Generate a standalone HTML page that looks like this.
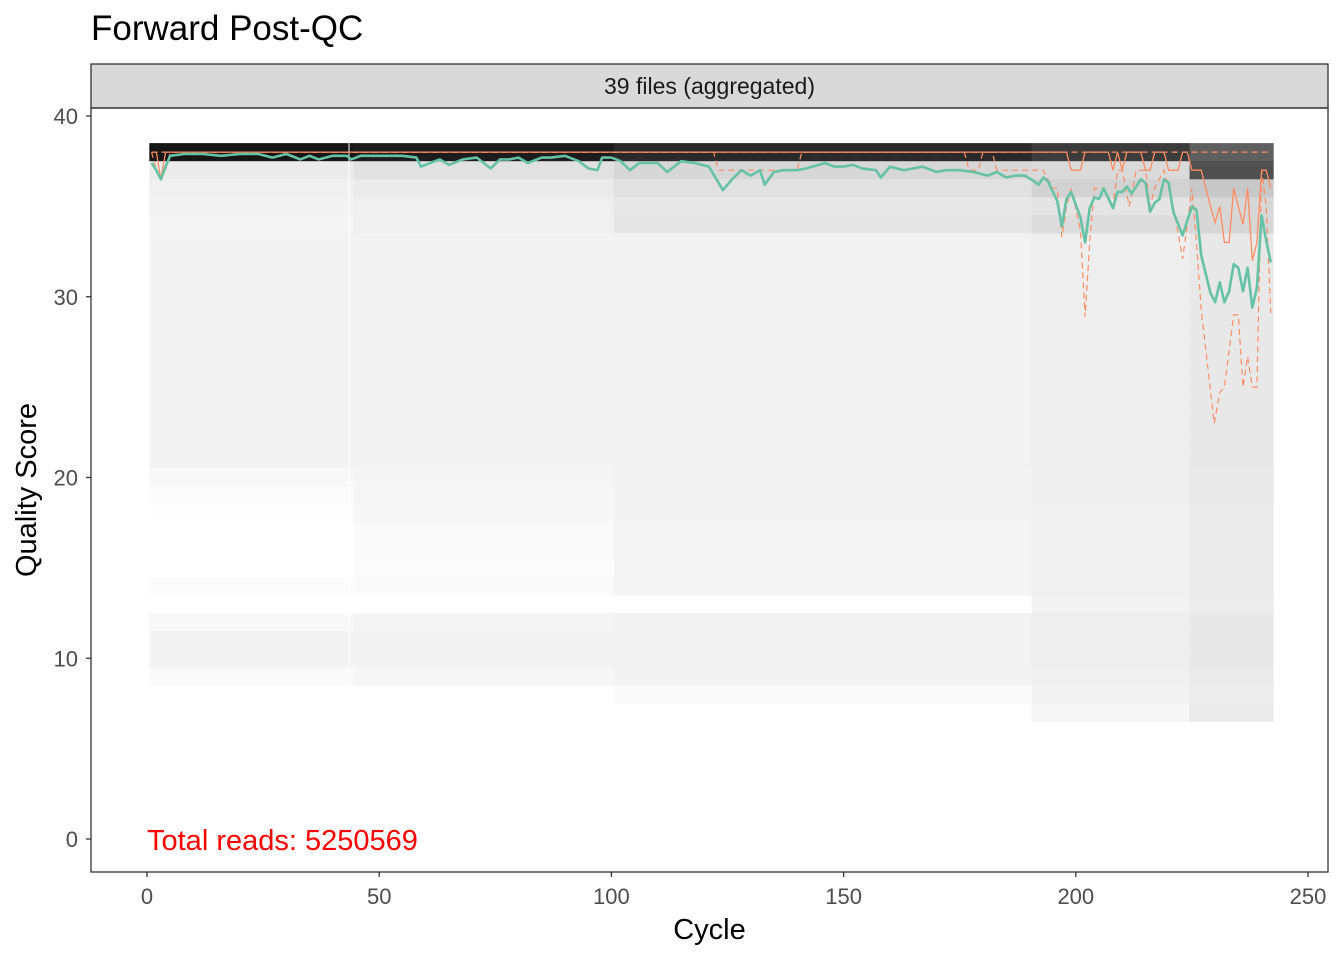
<!DOCTYPE html>
<html><head><meta charset="utf-8">
<style>
html,body{margin:0;padding:0;background:#fff;}
svg{display:block;font-family:"Liberation Sans",Arial,sans-serif;}
</style></head>
<body>
<svg id="chart" width="1344" height="960" viewBox="0 0 1344 960">
  <text x="91" y="40" font-size="35" fill="#000">Forward Post-QC</text>
  <rect x="91" y="64" width="1237" height="44" fill="#d9d9d9" stroke="#333" stroke-width="1.3"/>
  <text x="709.5" y="94" font-size="23" fill="#1a1a1a" text-anchor="middle">39 files (aggregated)</text>
  <g id="heat"></g>
  <g id="lines"></g>
  <rect x="91" y="108" width="1237" height="764" fill="none" stroke="#333" stroke-width="1.3"/>
  <g id="axes"></g>
  <text x="147" y="850" font-size="29" fill="#ff0000">Total reads: 5250569</text>
  <text x="709.5" y="939" font-size="29" fill="#000" text-anchor="middle">Cycle</text>
  <text x="0" y="0" font-size="29" fill="#000" text-anchor="middle" transform="translate(36,490) rotate(-90)">Quality Score</text>
</svg>
<script>
// ---- data ----
const xTicks = [0, 50, 100, 150, 200, 250];
const yTicks = [0, 10, 20, 30, 40];
const qLevels = [38,37,36,35,34,33,32,31,30,29,28,27,26,25,24,23,22,21,20,19,18,17,16,15,14,13,12,11,10,9,8,7];
const segStart = [1, 45, 101, 191, 225];
const segEnd   = [44, 100, 190, 224, 242];
const grayA = [22,235,240,242,244,243,243,243,243,243,243,243,243,243,243,243,243,243,248,252,254,255,255,255,252,255,248,243,243,250,255,255];
const grayB = [28,225,235,240,240,243,243,243,243,243,243,243,243,243,243,243,243,243,245,246,247,250,250,252,250,255,244,243,243,246,255,255];
const grayC = [42,215,225,232,230,242,242,242,242,242,242,242,242,242,242,242,242,242,243,243,243,244,244,244,244,255,242,242,242,243,250,255];
const grayD = [60,218,210,228,220,238,238,238,238,238,238,238,238,238,238,238,238,238,239,239,240,240,240,240,240,242,238,238,238,240,242,246];
const grayE = [95,80,200,215,215,232,232,232,232,232,232,232,232,232,232,232,232,232,233,233,234,234,234,234,234,236,232,232,232,234,236,234];
const meanCycles = [1,2,3,4,5,8,12,16,20,24,27,30,33,35,37,40,43,44,46,50,55,58,59,61,63,65,68,71,74,76,78,80,82,85,87,90,92,93,95,97,98,100,102,104,106,110,112,115,118,121,124,126,128,130,132,133,135,137,140,142,146,148,150,152,154,157,158,160,163,167,170,172,175,178,181,183,185,187,189,191,192,193,194,196,197,198,199,201,202,203,204,205,206,208,209,210,211,212,214,215,216,217,218,219,220,221,223,225,226,227,229,230,231,232,233,234,235,236,237,238,239,240,241,242];
const meanQ = [37.4,37.0,36.5,37.2,37.8,37.9,37.9,37.8,37.9,37.9,37.7,37.9,37.6,37.8,37.6,37.8,37.8,37.6,37.8,37.8,37.8,37.7,37.2,37.4,37.6,37.3,37.6,37.7,37.1,37.6,37.6,37.7,37.4,37.7,37.7,37.8,37.6,37.5,37.1,37.0,37.7,37.7,37.5,37.0,37.4,37.4,36.9,37.5,37.4,37.2,35.9,36.5,37.0,36.7,37.0,36.2,36.9,37.0,37.0,37.1,37.4,37.2,37.2,37.3,37.1,37.0,36.6,37.2,37.0,37.2,36.9,37.0,37.0,36.9,36.7,36.9,36.6,36.7,36.7,36.4,36.2,36.6,36.4,35.3,33.9,35.4,35.8,34.4,33.0,34.9,35.5,35.4,36.0,34.9,35.8,35.8,36.1,35.7,36.5,36.3,34.7,35.2,35.4,36.5,36.3,34.7,33.4,35.0,34.8,32.3,30.2,29.7,30.8,29.7,30.3,31.8,31.6,30.3,31.6,29.4,30.5,34.5,33.1,31.9];
const medCycles = [1,2,3,4,5,198,199,201,202,207,208,209,210,211,214,215,216,217,219,220,222,223,224,225,226,227,229,230,231,232,233,234,236,237,238,239,240,241,242];
const medQ = [38,38,36.5,38,38,38,37,37,38,38,37,38,37,38,38,37,37,38,38,37,37,38,38,37,37,37,35,34.1,35,33,33,36,34,36,32,33,37,37,36];
const q25Cycles = [1,2,3,4,5,122,123,130,131,140,141,176,177,179,180,182,183,192,193,195,196,197,198,199,201,202,203,204,206,208,209,210,211.5,213,215,216,217,219,221,223,224,225,226,227,229.8,231,232,234,235,236,237,238,239,240,241,242];
const q25Q = [38,37,36.5,37,38,38,37,37,37,37,38,38,37,37,38,38,37,37,37,36,36,33.3,35,36,33.7,28.9,33,36,36,35,37,37,35,37,37,35,36,37,35,32.1,34,36,33,29.3,23,24.7,25,29,29,25,26.7,25,25,37,35,29.1];
const q75Cycles = [1,242];
const q75Q = [38,38];

// ---- scales ----
const X = v => 147 + v * 4.644;
const Y = q => 839 - q * 18.075;
const NS = 'http://www.w3.org/2000/svg';
function mk(tag, attrs, parent) {
  const e = document.createElementNS(NS, tag);
  for (const k in attrs) e.setAttribute(k, attrs[k]);
  parent.appendChild(e);
  return e;
}

// heatmap
const heat = document.getElementById('heat');
const grays = [grayA, grayB, grayC, grayD, grayE];
segStart.forEach((s, si) => {
  qLevels.forEach((q, qi) => {
    const g = grays[si][qi];
    if (g >= 255) return;
    const r = mk('rect', {x: X(s - 0.5), y: Y(q + 0.5), width: X(segEnd[si] + 0.5) - X(s - 0.5) + 0.5, height: 18.6, fill: `rgb(${g},${g},${g})`}, heat);
    
    
  });
});
const gap = mk('line', {x1: X(43.5), x2: X(43.5), y1: Y(38.5), y2: Y(8.5), stroke: '#fff', 'stroke-width': 1}, heat);



// lines
const lines = document.getElementById('lines');
function pts(cs, vs) { return cs.map((c, i) => X(c).toFixed(1) + ',' + Y(vs[i]).toFixed(1)).join(' '); }
const l75 = mk('polyline', {points: pts(q75Cycles, q75Q), fill: 'none', stroke: '#fc8d62', 'stroke-width': 1.2, 'stroke-dasharray': '6,4'}, lines);


const l25 = mk('polyline', {points: pts(q25Cycles, q25Q), fill: 'none', stroke: '#fc8d62', 'stroke-width': 1.2, 'stroke-dasharray': '6,4'}, lines);


const lmed = mk('polyline', {points: pts(medCycles, medQ), fill: 'none', stroke: '#fc8d62', 'stroke-width': 1.3}, lines);


const lmean = mk('polyline', {points: pts(meanCycles, meanQ), fill: 'none', stroke: '#66c2a5', 'stroke-width': 2.6, 'stroke-linejoin': 'round'}, lines);



// axes
const axes = document.getElementById('axes');
xTicks.forEach(t => {
  const tk = mk('line', {x1: X(t), x2: X(t), y1: 872, y2: 877, stroke: '#333', 'stroke-width': 1.3}, axes);
  
  
  const lb = mk('text', {x: X(t), y: 904, 'font-size': 22, fill: '#4d4d4d', 'text-anchor': 'middle'}, axes);
  lb.textContent = t;
  
  
});
yTicks.forEach(t => {
  const tk = mk('line', {x1: 86, x2: 91, y1: Y(t), y2: Y(t), stroke: '#333', 'stroke-width': 1.3}, axes);
  
  
  const lb = mk('text', {x: 78, y: Y(t) + 8, 'font-size': 22, fill: '#4d4d4d', 'text-anchor': 'end'}, axes);
  lb.textContent = t;
  
  
});
</script>
</body></html>
